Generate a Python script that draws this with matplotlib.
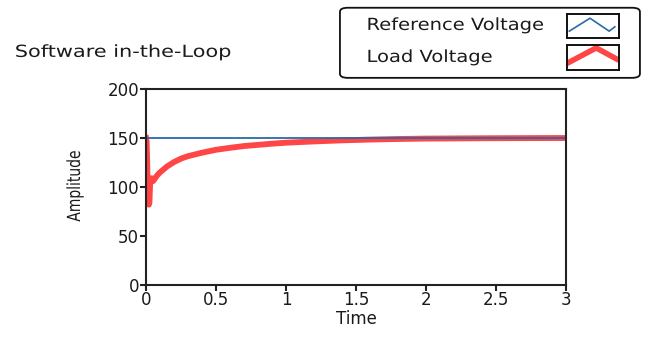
import numpy as np
import matplotlib.pyplot as plt
from matplotlib.patches import FancyBboxPatch
from matplotlib.patheffects import AbstractPathEffect
from matplotlib.transforms import Affine2D

# Load voltage samples (time in s, amplitude)
load_time = [0.0, 0.004, 0.008, 0.012, 0.016, 0.02, 0.024, 0.028, 0.032, 0.04, 0.05,
             0.06, 0.08, 0.1, 0.15, 0.2, 0.25, 0.3, 0.4, 0.5, 0.6, 0.7, 0.8, 0.9,
             1.0, 1.2, 1.4, 1.6, 1.8, 2.0, 2.5, 3.0]
load_volt = [150, 147, 125, 100, 86, 82, 84, 100, 108, 109, 106,
             108, 112, 115, 121, 125.5, 129, 131.5, 135, 138, 140, 141.8, 143, 144.2,
             145.2, 146.5, 147.6, 148.4, 149, 149.4, 149.8, 150]
ref_time = [0.0, 3.0]
ref_volt = [150, 150]

x_ticks = [0, 0.5, 1, 1.5, 2, 2.5, 3]
x_labels = ['0', '0.5', '1', '1.5', '2', '2.5', '3']
y_ticks = [0, 50, 100, 150, 200]


class Stretch(AbstractPathEffect):
    """Scale the glyph outlines of a text in display space."""

    def __init__(self, sx=1.0, sy=1.0, anchor='left'):
        super().__init__()
        self.sx, self.sy, self.anchor = sx, sy, anchor

    def draw_path(self, renderer, gc, tpath, affine, rgbFace=None):
        ext = tpath.get_extents(affine)
        cx = ext.x0 if self.anchor == 'left' else (ext.x0 + ext.x1) / 2
        cy = (ext.y0 + ext.y1) / 2
        affine = affine + Affine2D().translate(-cx, -cy).scale(self.sx, self.sy).translate(cx, cy)
        renderer.draw_path(gc, tpath, affine, rgbFace)


plt.rcParams['font.family'] = ['DejaVu Sans']
txt = '#1a1a1a'
red = '#ff4545'
blue = '#2a6aa8'

fig = plt.figure(figsize=(6.55, 3.37), dpi=100)
ax = fig.add_axes([0.223, 0.154, 0.641, 0.582])

ax.plot(load_time, load_volt, color=red, linewidth=4.2, solid_joinstyle='round')
ax.plot(ref_time, ref_volt, color=blue, linewidth=1.3)

ax.set_xlim(0, 3)
ax.set_ylim(0, 200)
ax.set_xticks(x_ticks)
ax.set_xticklabels(x_labels)
ax.set_yticks(y_ticks)
ax.tick_params(axis='both', labelsize=12, length=4, width=1.5, color='#222222',
               labelcolor=txt, pad=1)
ax.tick_params(axis='x', pad=0)
for s in ax.spines.values():
    s.set_linewidth(1.5)
    s.set_color('#222222')
ax.set_xlabel('Time', fontsize=12, color=txt, labelpad=1)

# narrow y label
fig.text(75 / 655, 1 - 186 / 337, 'Amplitude', fontsize=13, color=txt, rotation=90,
         ha='center', va='center', path_effects=[Stretch(1.0, 0.77, anchor='center')])

fig.text(0.023, 0.846, 'Software in-the-Loop', fontsize=12, color=txt, va='center', ha='left',
         path_effects=[Stretch(1.25, 1.0)])

# legend panel
box = FancyBboxPatch((0.519, 0.769), 0.458, 0.208, boxstyle='round,pad=0,rounding_size=0.012',
                     transform=fig.transFigure, facecolor='none', edgecolor='#111111', linewidth=1.3)
fig.patches.append(box)
fig.text(0.560, 0.926, 'Reference Voltage', fontsize=12, color=txt, va='center', ha='left',
         path_effects=[Stretch(1.17, 1.0)])
fig.text(0.560, 0.831, 'Load Voltage', fontsize=12, color=txt, va='center', ha='left',
         path_effects=[Stretch(1.17, 1.0)])

swatches = [
    ([0.866, 0.887, 0.079, 0.071], blue, 1.2, [0.04, 0.44, 0.81, 0.92], [0.29, 0.83, 0.29, 0.47]),
    ([0.866, 0.792, 0.079, 0.074], red, 4.0, [-0.05, 0.56, 0.95], [0.22, 0.89, 0.45]),
]
for rect, col, lw, xs, ys in swatches:
    sw = fig.add_axes(rect)
    sw.set_xlim(0, 1)
    sw.set_ylim(0, 1)
    sw.set_xticks([])
    sw.set_yticks([])
    for s in sw.spines.values():
        s.set_linewidth(1.4)
        s.set_color('#111111')
    sw.plot(xs, ys, color=col, linewidth=lw)

fig.savefig('out.png', dpi=100)
